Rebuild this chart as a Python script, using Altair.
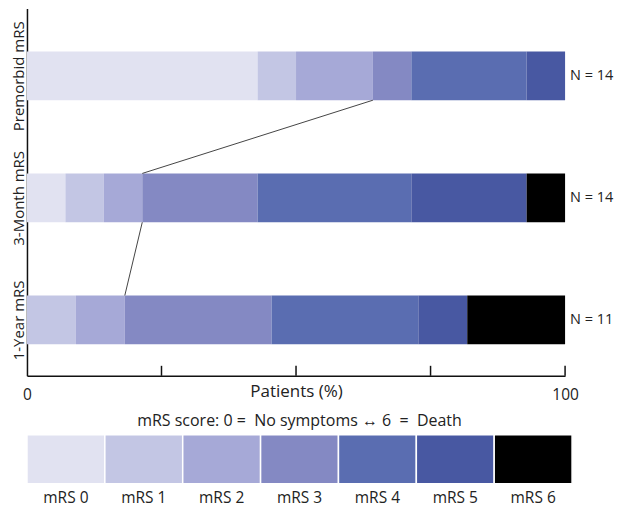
import altair as alt
import pandas as pd

rows = ["Premorbid mRS", "3-Month mRS", "1-Year mRS"]
row_pos = [2, 1, 0]
n_labels = ["N = 14", "N = 14", "N = 11"]
levels = ["mRS 0", "mRS 1", "mRS 2", "mRS 3", "mRS 4", "mRS 5", "mRS 6"]
counts_premorbid = [6, 1, 2, 1, 3, 1, 0]
counts_3month = [1, 1, 1, 3, 4, 3, 1]
counts_1year = [0, 1, 1, 3, 3, 1, 2]
colors = ["#e1e2f1", "#c3c6e4", "#a6a9d7", "#8489c3", "#5a6db1", "#4858a2", "#000000"]
x_tick_values = [25, 50, 75, 100]
legend_title = "mRS score: 0 =\u00a0 No symptoms \u2194 6\u00a0 =\u00a0 Death"

FS = 15.5
all_counts = [counts_premorbid, counts_3month, counts_1year]
half = 0.2

recs = []
cum02 = []
for r, pos, cnts in zip(rows, row_pos, all_counts):
    tot = sum(cnts)
    c = 0
    for lvl, k in zip(levels, cnts):
        if k > 0:
            recs.append({"row": r, "level": lvl, "x": 100 * c / tot,
                         "x2": 100 * (c + k) / tot, "y": pos - half, "y2": pos + half})
        c += k
    cum02.append(100 * sum(cnts[:3]) / tot)
bars_df = pd.DataFrame(recs)

conn_df = pd.DataFrame([
    {"x": cum02[i], "y": row_pos[i] - half, "x2": cum02[i + 1], "y2": row_pos[i + 1] + half}
    for i in range(len(rows) - 1)
])
n_df = pd.DataFrame({"row": rows, "pos": row_pos, "n": n_labels})

y0, y1 = -0.458, 2.552
ticks_df = pd.DataFrame({"x": x_tick_values, "y": [y0] * 4, "y2": [y0 + 10 / 122.25] * 4})

xscale = alt.Scale(domain=[0, 100], nice=False)
yscale = alt.Scale(domain=[y0, y1], nice=False, zero=False)
cscale = alt.Scale(domain=levels, range=colors)

label_expr = " : ".join(
    f"datum.value == {p} ? '{r}'" for p, r in zip(row_pos[:-1], rows[:-1])
) + f" : '{rows[-1]}'"

bars = alt.Chart(bars_df).mark_bar().encode(
    x=alt.X("x:Q", scale=xscale,
            axis=alt.Axis(values=[0, 100], title="Patients (%)", ticks=False, grid=False,
                          domainColor="#111", domainWidth=1.5, labelFontSize=FS,
                          titleFontSize=17, titleFontWeight="normal", labelPadding=12,
                          titlePadding=-20, labelFlush=False, labelColor="#222", titleColor="#222")),
    x2="x2:Q",
    y=alt.Y("y:Q", scale=yscale,
            axis=alt.Axis(values=row_pos, labelExpr=label_expr, title=None, ticks=False,
                          grid=False, domainColor="#111", domainWidth=1.5, labelAngle=-90,
                          labelFontSize=15, labelPadding=0, labelColor="#222")),
    y2="y2:Q",
    color=alt.Color("level:N", scale=cscale, legend=None),
)

conn = alt.Chart(conn_df).mark_rule(color="#444", strokeWidth=1).encode(
    x="x:Q", x2="x2:Q", y="y:Q", y2="y2:Q")

nt = alt.Chart(n_df).mark_text(align="left", dx=5, fontSize=14.5, color="#222").encode(
    x=alt.datum(100), y=alt.Y("pos:Q"), text="n:N")

tk = alt.Chart(ticks_df).mark_rule(color="#111", strokeWidth=1.5).encode(
    x="x:Q", y="y:Q", y2="y2:Q")

main = alt.layer(bars, conn, tk, nt).properties(width=539, height=368)

leg_df = pd.DataFrame({"level": levels})
legend = alt.Chart(leg_df).mark_rect(stroke="white", strokeWidth=1.5).encode(
    x=alt.X("level:N", sort=levels, scale=alt.Scale(paddingOuter=0.0, paddingInner=0),
            axis=alt.Axis(title=None, domain=False, ticks=False, labelAngle=0,
                          labelFontSize=FS, labelPadding=7, labelColor="#222")),
    color=alt.Color("level:N", scale=cscale, legend=None),
).properties(width=546, height=49,
             title=alt.Title(legend_title, fontSize=16, fontWeight="normal", color="#222", offset=5))

chart = alt.vconcat(main, legend, spacing=9).properties(
    padding={"left": 3, "top": 0, "right": 0, "bottom": 0}
).configure(font="Open Sans").configure_view(stroke=None)

chart.save("out.html", embed_options={"renderer": "svg", "actions": False})
